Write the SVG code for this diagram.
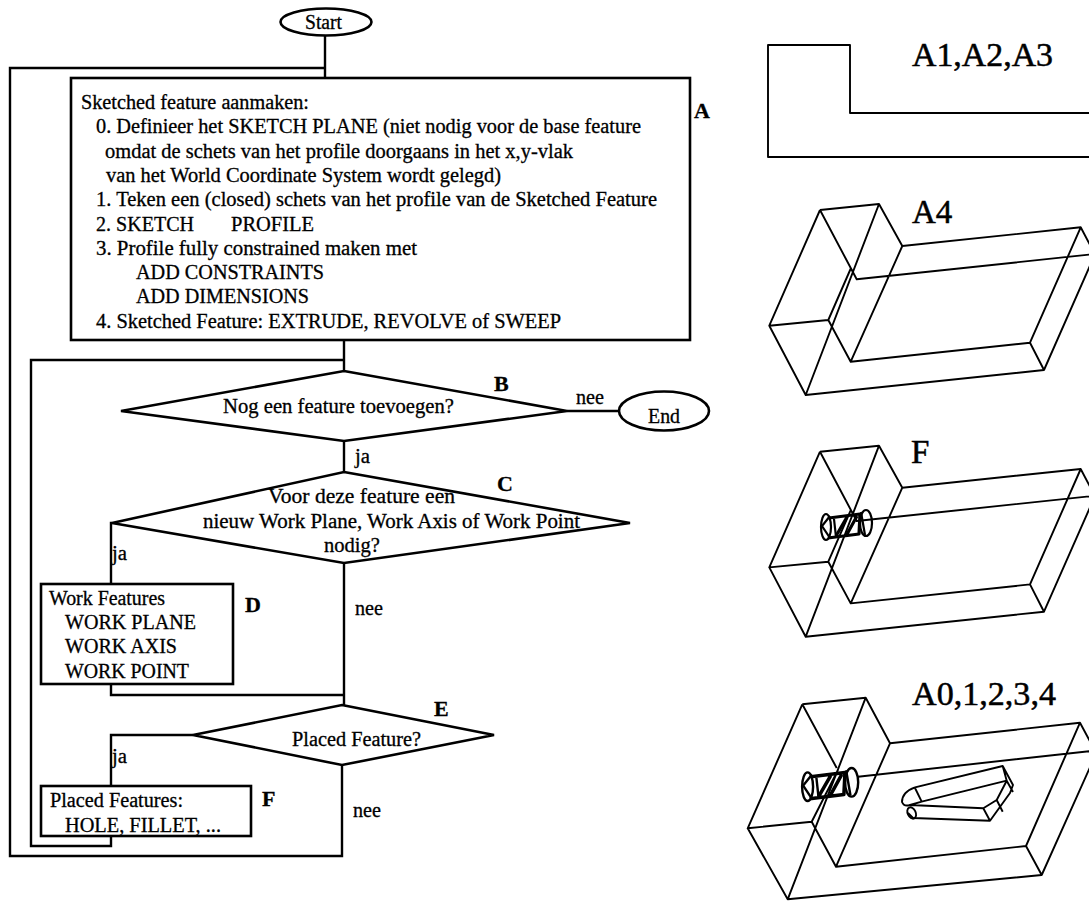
<svg xmlns="http://www.w3.org/2000/svg" width="1089" height="901" viewBox="0 0 1089 901">
<style>
text{font-family:"Liberation Serif","Times New Roman",serif;font-size:20px;fill:#000;stroke:#000;stroke-width:.3}
.n{fill:#fff;stroke:#000;stroke-width:2.6}
.c{fill:none;stroke:#000;stroke-width:2.4}
.d{fill:none;stroke:#000;stroke-width:1.9;stroke-linejoin:round}
.h{fill:none;stroke:#000;stroke-width:2.2}
.k{fill:none;stroke:#000;stroke-width:3.2;stroke-linejoin:round}
.l{font-weight:bold;font-size:22px}
.t{font-size:33px;stroke-width:.5}
</style>
<defs>
<g id="cyl">
<ellipse class="h" cx="826" cy="527" rx="5" ry="13"/>
<ellipse class="h" cx="866" cy="523" rx="6" ry="13"/>
<path class="h" d="M830 516L822 526L830 538M834 519L836 537M861 512L865 535"/>
<path class="k" d="M829 518L860 514L859 534L828 538M846 536L857 516M836 536L847 517"/>
</g>
<path id="block" class="d" d="M820 210L879 204L902.3 246L1080.7 227.3L1100 264M820 210L856.7 279.3L1100 253.5M820 210L769.3 325.7L828.3 320L850.7 361.7L1030 342.7L1044 370L805.7 395L769.3 325.7M879 204L805.7 395M902.3 246L850.7 361.7M828.3 320L851 268M1030 342.7L1080.7 227.3M1044 370L1100 243"/>
</defs>
<g id="connectors">
<path class="c" d="M325 36V78M325 68H10V856H342V765"/>
<path class="c" d="M344 340V371M344 360H31V846H111V786"/>
<path class="c" d="M567 411H619M344 441V472M344 563V705"/>
<path class="c" d="M112 523H111V584M111 684V695H344M193 735H111V786"/>
</g>
<g id="start"><ellipse class="n" cx="326" cy="22" rx="45.5" ry="13.5"/><text x="305" y="29" textLength="37" lengthAdjust="spacingAndGlyphs">Start</text></g>
<g id="nodeA">
<rect class="n" x="71" y="78" width="619" height="262"/>
<text x="81" y="109" textLength="228" lengthAdjust="spacingAndGlyphs">Sketched feature aanmaken:</text>
<text x="96" y="133" textLength="545" lengthAdjust="spacingAndGlyphs">0. Definieer het SKETCH PLANE (niet nodig voor de base feature</text>
<text x="105" y="158" textLength="468" lengthAdjust="spacingAndGlyphs">omdat de schets van het profile doorgaans in het x,y-vlak</text>
<text x="106" y="182" textLength="395" lengthAdjust="spacingAndGlyphs">van het World Coordinate System wordt gelegd)</text>
<text x="96" y="206" textLength="561" lengthAdjust="spacingAndGlyphs">1. Teken een (closed) schets van het profile van de Sketched Feature</text>
<text x="96" y="231" textLength="98" lengthAdjust="spacingAndGlyphs">2. SKETCH</text>
<text x="231" y="231" textLength="83" lengthAdjust="spacingAndGlyphs">PROFILE</text>
<text x="96" y="255" textLength="321" lengthAdjust="spacingAndGlyphs">3. Profile fully constrained maken met</text>
<text x="136" y="279" textLength="188" lengthAdjust="spacingAndGlyphs">ADD CONSTRAINTS</text>
<text x="136" y="303" textLength="173" lengthAdjust="spacingAndGlyphs">ADD DIMENSIONS</text>
<text x="96" y="328" textLength="465" lengthAdjust="spacingAndGlyphs">4. Sketched Feature: EXTRUDE, REVOLVE of SWEEP</text>
<text class="l" x="694" y="118">A</text>
</g>
<g id="nodeB">
<polygon class="n" points="344,371 567,411 344,441 121,411"/>
<text x="223" y="413" textLength="231" lengthAdjust="spacingAndGlyphs">Nog een feature toevoegen?</text>
<text class="l" x="494" y="391">B</text>
</g>
<g id="end"><ellipse class="n" cx="664" cy="411" rx="45" ry="19.5"/><text x="648" y="423" textLength="32" lengthAdjust="spacingAndGlyphs">End</text></g>
<text x="576" y="404" textLength="28" lengthAdjust="spacingAndGlyphs">nee</text>
<text x="355" y="463" textLength="15" lengthAdjust="spacingAndGlyphs">ja</text>
<g id="nodeC">
<polygon class="n" points="344,472 630,523 344,563 112,523"/>
<text x="268" y="503" textLength="187" lengthAdjust="spacingAndGlyphs">Voor deze feature een</text>
<text x="203" y="528" textLength="377" lengthAdjust="spacingAndGlyphs">nieuw Work Plane, Work Axis of Work Point</text>
<text x="324" y="552" textLength="56" lengthAdjust="spacingAndGlyphs">nodig?</text>
<text class="l" x="497" y="491">C</text>
</g>
<text x="112" y="560" textLength="15" lengthAdjust="spacingAndGlyphs">ja</text>
<text x="355" y="615" textLength="28" lengthAdjust="spacingAndGlyphs">nee</text>
<g id="nodeD">
<rect class="n" x="41" y="584" width="192" height="100"/>
<text x="49" y="605" textLength="116" lengthAdjust="spacingAndGlyphs">Work Features</text>
<text x="65" y="629" textLength="131" lengthAdjust="spacingAndGlyphs">WORK PLANE</text>
<text x="65" y="653" textLength="112" lengthAdjust="spacingAndGlyphs">WORK AXIS</text>
<text x="65" y="678" textLength="124" lengthAdjust="spacingAndGlyphs">WORK POINT</text>
<text class="l" x="245" y="612">D</text>
</g>
<g id="nodeE">
<polygon class="n" points="342,705 494,735 342,765 193,735"/>
<text x="292" y="746" textLength="129" lengthAdjust="spacingAndGlyphs">Placed Feature?</text>
<text class="l" x="434" y="716">E</text>
</g>
<text x="112" y="763" textLength="15" lengthAdjust="spacingAndGlyphs">ja</text>
<text x="353" y="817" textLength="28" lengthAdjust="spacingAndGlyphs">nee</text>
<g id="nodeF">
<rect class="n" x="41" y="786" width="210" height="50"/>
<text x="50" y="807" textLength="133" lengthAdjust="spacingAndGlyphs">Placed Features:</text>
<text x="65" y="832" textLength="156" lengthAdjust="spacingAndGlyphs">HOLE, FILLET, ...</text>
<text class="l" x="262" y="806">F</text>
</g>
<g id="a123">
<path class="d" d="M1089 113H850V45H768V157H1089"/>
<text class="t" x="912" y="66" textLength="141" lengthAdjust="spacingAndGlyphs">A1,A2,A3</text>
</g>
<g id="a4">
<use href="#block"/>
<text class="t" x="912" y="223">A4</text>
</g>
<g id="f">
<use href="#block" y="241.7"/>
<use href="#cyl"/>
<text class="t" x="911" y="463">F</text>
</g>
<g id="a0">
<path class="d" d="M802.3 704.3L865.7 697.7L890 743.3L1080 722.7L1100 760M802.3 704.3L836.7 768M858 776.7L1100 750M802.3 704.3L747.7 828.300L811.7 821.7L836 866.7L1026 846L1041.7 875L787.7 899.3L747.7 828.300M865.700 697.700L787.700 899.300M890 743.300L836 866.700M811.700 821.700L838 770M1026 846L1080 722.700M1041.700 875L1100 745"/>
<use href="#cyl" transform="translate(-101 207) scale(1.1)"/>
<path class="d" d="M915 787.300L1002.700 766L1013 785L1010 793L990 820.700L913 818L908 813M915 787.300Q902 792 902 802Q904 807 910 805L921.700 801.700L1006.700 780.700M1002.700 766L1006.700 780.700L1013 792M915 788L921.700 801.700M910 805L983.300 808.300L990 820.700M983.300 808.300L996.700 800L1006.700 780.700M996.700 800L1002.700 811.700"/>
<ellipse class="d" cx="911.700" cy="813" rx="4" ry="6" transform="rotate(-25 911.700 813)"/>
<text class="t" x="912" y="705" textLength="144" lengthAdjust="spacingAndGlyphs">A0,1,2,3,4</text>
</g>
</svg>
